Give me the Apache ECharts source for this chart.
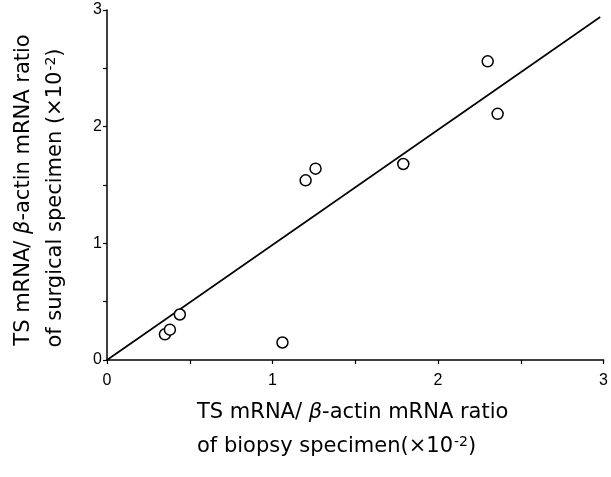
<!DOCTYPE html>
<html><head><meta charset="utf-8">
<script src="https://cdn.jsdelivr.net/npm/echarts@6/dist/echarts.min.js"></script>
<style>html,body{margin:0;padding:0;background:#fff}#c{width:611px;height:477px}</style>
</head><body><div id="c"></div>
<script>
var biopsy = [0.35, 0.38, 0.44, 1.06, 1.20, 1.26, 1.79, 2.30, 2.36];
var surgical = [0.22, 0.26, 0.39, 0.15, 1.54, 1.64, 1.68, 2.56, 2.11];
var fitLine = [[0, 0], [2.98, 2.94]];
var tickLabels = ['0', '1', '2', '3'];

var pts = biopsy.map(function (x, i) { return [x, surgical[i]]; });
var font = '"DejaVu Sans", sans-serif';
var chart = echarts.init(document.getElementById('c'), null, {renderer: 'canvas'});
function lab(v) { var s = String(Math.round(v)); return (Math.abs(v - Math.round(v)) < 1e-6 && tickLabels.indexOf(s) >= 0) ? s : ''; }
function axis(margin) {
  return {
    type: 'value', min: 0, max: 3, interval: 0.5,
    splitLine: {show: false},
    axisLine: {lineStyle: {color: '#000', width: 1.5}},
    axisTick: {show: true, length: 4, lineStyle: {color: '#000', width: 1.2}},
    axisLabel: {color: '#000', fontSize: 16, fontFamily: '"Liberation Sans", Arial, sans-serif',
      formatter: lab, margin: margin, showMinLabel: true, showMaxLabel: true}
  };
}
chart.setOption({
  animation: false,
  backgroundColor: '#fff',
  grid: {left: 107, right: 4, top: 10, bottom: 117, containLabel: false},
  xAxis: axis(13),
  yAxis: axis(5),
  series: [
    {type: 'line', data: fitLine, symbol: 'none', lineStyle: {color: '#000', width: 1.6}, z: 2},
    {type: 'scatter', data: pts, symbol: 'circle', symbolSize: 11,
     itemStyle: {color: '#fff', borderColor: '#000', borderWidth: 1.5, opacity: 1}, z: 3}
  ],
  graphic: [
    {type: 'text', left: 197, top: 402, style: {
      text: 'TS mRNA/ {b|β}-actin mRNA ratio', font: '21px ' + font, fill: '#000',
      rich: {b: {fontStyle: 'italic', fontSize: 21, fontFamily: font}}}},
    {type: 'text', left: 197, top: 435, style: {
      text: 'of biopsy specimen(×10{s|-2})', font: '21px ' + font, fill: '#000',
      rich: {s: {fontSize: 14, fontFamily: font, padding: [0, 0, 9, 1]}}}},
    {type: 'text', x: 24, y: 190, rotation: Math.PI / 2, style: {
      text: 'TS mRNA/ {b|β}-actin mRNA ratio', font: '21px ' + font, fill: '#000',
      align: 'center', verticalAlign: 'middle',
      rich: {b: {fontStyle: 'italic', fontSize: 21, fontFamily: font}}}},
    {type: 'text', x: 56, y: 198, rotation: Math.PI / 2, style: {
      text: 'of surgical specimen (×10{s|-2})', font: '21px ' + font, fill: '#000',
      align: 'center', verticalAlign: 'middle',
      rich: {s: {fontSize: 14, fontFamily: font, padding: [0, 0, 9, 1]}}}}
  ]
});
</script></body></html>
